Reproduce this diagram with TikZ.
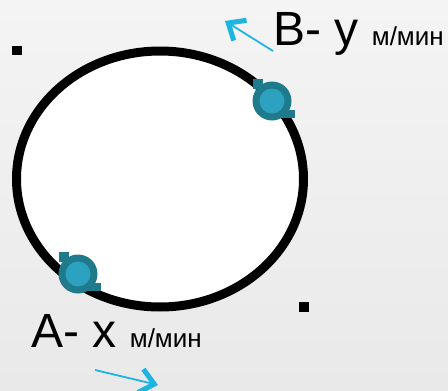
\documentclass[tikz,border=0pt]{standalone}
\usepackage{fontspec}
\setmainfont{Liberation Sans}
\usetikzlibrary{shapes.geometric,arrows.meta}

\definecolor{bgtop}{HTML}{F4F4F4}
\definecolor{bgbot}{HTML}{E9E9E9}
\definecolor{puckout}{HTML}{1F7A8C}
\definecolor{puckin}{HTML}{2CA2C0}
\definecolor{motion}{HTML}{1CB4E2}

\tikzset{
  ring/.style={draw=black, line width=9pt, fill=white, ellipse, inner sep=0pt},
  handle/.style={fill=black, rectangle, minimum size=9.5pt, inner sep=0pt},
  puck/.style={circle, fill=puckout, minimum size=39pt, inner sep=0pt,
    path picture={\fill[puckin] (path picture bounding box.center) circle (12.5pt);}},
  pucktab/.style={fill=puckout},
  biglabel/.style={inner sep=0pt, anchor=base west, font=\fontsize{48}{52}\selectfont},
  motionarrow/.style={draw=motion, line width=1.8pt,
    -{Straight Barb[length=14pt, width=24pt, line width=5pt, sharp]}}
}
\newcommand{\unitlabel}{{\fontsize{26}{28}\selectfont м/мин}}

\begin{document}
\begin{tikzpicture}[x=1pt,y=-1pt]
        \fill[top color=bgtop, bottom color=bgbot] (0,0) rectangle (448,391);
        \useasboundingbox (0,0) rectangle (448,391);

        \node (track) [ring, minimum width=287pt, minimum height=256pt] at (160,179) {};
        \node (handleNW) [handle] at (17,50.5) {};
        \node (handleSE) [handle] at (304,307) {};

        % the two runners on the track
        \node (runB) [puck] at (272,101) {};
        \node (runA) [puck] at (78,274) {};
        \foreach \r in {runB,runA} {
            \fill[pucktab] ([shift={(-19,-22)}]\r.center) rectangle ([shift={(-9,-12)}]\r.center);
            \fill[pucktab] ([shift={(10,9)}]\r.center) rectangle ([shift={(23,17)}]\r.center);
        }

        \node (labelB) [biglabel] at (273,45) {В- у \unitlabel};
        \node (labelA) [biglabel] at (31,347) {А- х \unitlabel};

        \coordinate (dirBtail) at (273,51);
        \coordinate (dirBhead) at (225,21);
        \coordinate (dirAtail) at (95,370);
        \coordinate (dirAhead) at (158,385);
        \draw[motionarrow] (dirBtail) -- (dirBhead);
        \draw[motionarrow] (dirAtail) -- (dirAhead);
    \end{tikzpicture}
\end{document}
